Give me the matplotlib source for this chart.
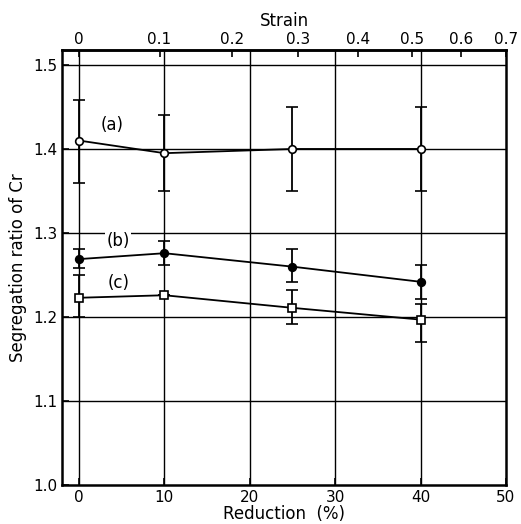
import numpy as np
import matplotlib
matplotlib.use("Agg")
import matplotlib.pyplot as plt

# Data
reduction = [0, 10, 25, 40]
# (a) open circles
a_val = [1.410, 1.395, 1.400, 1.400]
a_lo = [0.050, 0.045, 0.050, 0.050]
a_hi = [0.048, 0.045, 0.050, 0.050]
# (b) filled circles
b_val = [1.269, 1.276, 1.260, 1.242]
b_lo = [0.010, 0.014, 0.018, 0.020]
b_hi = [0.012, 0.014, 0.021, 0.020]
# (c) open squares
c_val = [1.223, 1.226, 1.211, 1.197]
c_lo = [0.023, 0.0, 0.019, 0.027]
c_hi = [0.027, 0.0, 0.021, 0.019]

x_ticks = [0, 10, 20, 30, 40, 50]
y_ticks = [1.0, 1.1, 1.2, 1.3, 1.4, 1.5]
y_labels = ["1.0", "1.1", "1.2", "1.3", "1.4", "1.5"]
strain_ticks = [0, 0.1, 0.2, 0.3, 0.4, 0.5, 0.6, 0.7]
strain_labels = ["0", "0.1", "0.2", "0.3", "0.4", "0.5", "0.6", "0.7"]

fig = plt.figure(figsize=(5.21, 5.24), dpi=100)
ax = fig.add_axes([0.119, 0.074, 0.852, 0.831])

# grid
for xv in [0, 10, 20, 30, 40]:
    ax.axvline(xv, color="black", lw=1.0, zorder=1)
for yv in [1.1, 1.2, 1.3, 1.4, 1.5]:
    ax.axhline(yv, color="black", lw=1.0, zorder=1)

ebkw = dict(color="black", lw=1.3, capsize=4, capthick=1.3, ms=5.5, mew=1.2, zorder=3)
ax.errorbar(reduction, a_val, yerr=[a_lo, a_hi], fmt="-o", mfc="white", mec="black", **ebkw)
ax.errorbar(reduction, b_val, yerr=[b_lo, b_hi], fmt="-o", mfc="black", mec="black", **ebkw)
ax.errorbar(reduction, c_val, yerr=[c_lo, c_hi], fmt="-s", mfc="white", mec="black", **ebkw)

ax.text(3.9, 1.428, "(a)", fontsize=12, ha="center", va="center",
        bbox=dict(fc="white", ec="none", pad=1))
ax.text(4.6, 1.290, "(b)", fontsize=12, ha="center", va="center",
        bbox=dict(fc="white", ec="none", pad=1))
ax.text(4.6, 1.240, "(c)", fontsize=12, ha="center", va="center",
        bbox=dict(fc="white", ec="none", pad=1))

ax.set_xlim(-2, 50)
ax.set_ylim(1.0, 1.518)
ax.set_xticks(x_ticks)
ax.set_yticks(y_ticks)
ax.set_yticklabels(y_labels)
ax.tick_params(direction="in", length=5, width=1.2, labelsize=11)
ax.set_xlabel("Reduction  (%)", fontsize=12, labelpad=0)
ax.set_ylabel("Segregation ratio of Cr", fontsize=12, labelpad=4)

# strain scale so that 50 % reduction sits at 0.7 on the top axis
k = 0.7 / np.log(2.0)

def red2strain(r):
    r = np.asarray(r, dtype=float)
    return -k * np.log(np.clip(1 - r / 100.0, 1e-6, None))

def strain2red(s):
    s = np.asarray(s, dtype=float)
    return 100.0 * (1 - np.exp(-s / k))

sec = ax.secondary_xaxis("top", functions=(red2strain, strain2red))
sec.set_xticks(strain_ticks)
sec.set_xticklabels(strain_labels)
sec.tick_params(direction="in", length=5, width=1.2, labelsize=11, pad=2)
sec.set_xlabel("Strain", fontsize=12, labelpad=4)

for sp in ax.spines.values():
    sp.set_linewidth(1.8)
sec.spines["top"].set_linewidth(1.8)

fig.savefig("out.png", dpi=100)
